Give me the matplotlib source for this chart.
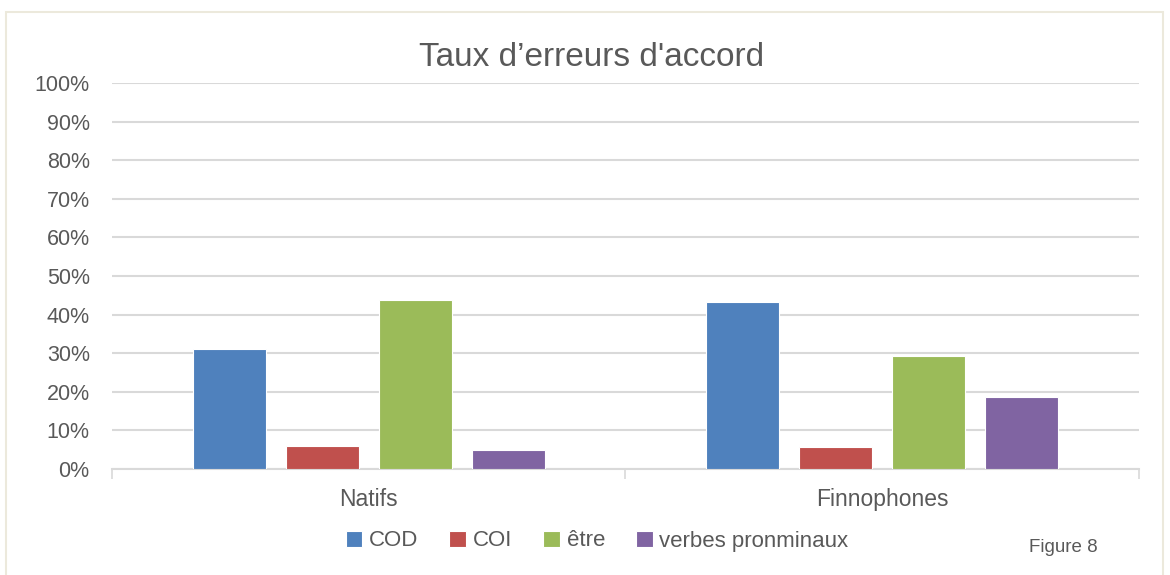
import matplotlib
matplotlib.use('Agg')
import matplotlib.pyplot as plt
import matplotlib.patches as mpatches
import numpy as np

# data
groups = ['Natifs', 'Finnophones']
series = ['COD', 'COI', 'être', 'verbes pronminaux']
cod = [31.1, 43.3]
coi = [6.0, 5.7]
etre = [43.8, 29.3]
verbes = [4.8, 18.7]
yticks = list(range(0, 101, 10))

colors = ['#4f81bd', '#c0504d', '#9bbb59', '#8064a2']
TXT = '#595959'

plt.rcParams['font.family'] = ['Liberation Sans Narrow', 'Liberation Sans', 'DejaVu Sans']

fig = plt.figure(figsize=(11.7, 5.75), dpi=100)
fig.patches.append(mpatches.Rectangle((6 / 1170, -0.01), 1157 / 1170, 1 - 12 / 575 + 0.01,
                                      transform=fig.transFigure, fill=False,
                                      edgecolor='#ece9dc', linewidth=1.5))

ax = fig.add_axes([0.0957, 0.1843, 0.8778, 0.6713])

x = np.arange(len(groups))
step, width = 0.181, 0.142
for i, (name, vals) in enumerate(zip(series, [cod, coi, etre, verbes])):
    ax.bar(x + (i - 1.5) * step, vals, width=width, color=colors[i],
           edgecolor='white', linewidth=0.8, label=name, zorder=3)

ax.set_xlim(-0.5, 1.5)
ax.set_ylim(0, 100)
ax.set_yticks(yticks)
ax.set_yticklabels([f'{v}%' for v in yticks], fontsize=15.5, color=TXT)
ax.yaxis.grid(True, color='#d9d9d9', linewidth=1.5, zorder=0)
ax.tick_params(axis='y', length=0, pad=16)

ax.set_xticks([-0.5, 0.5, 1.5])
ax.set_xticklabels([])
ax.tick_params(axis='x', length=7, width=1.2, color='#d9d9d9', direction='out')
ax.set_xticks(x, minor=True)
ax.set_xticklabels(groups, minor=True, fontsize=16.5, color=TXT)
ax.tick_params(axis='x', which='minor', length=0, pad=14)

for s in ['top', 'right', 'left']:
    ax.spines[s].set_visible(False)
ax.spines['bottom'].set_color('#d9d9d9')
ax.spines['bottom'].set_linewidth(1.5)

fig.text(592 / 1170, 1 - 57 / 575, "Taux d\u2019erreurs d'accord", ha='center', va='center',
         fontsize=24, color=TXT)

fig.legend(loc='center', bbox_to_anchor=(597 / 1170, 1 - 541 / 575), ncol=4,
           frameon=False, fontsize=16, handlelength=0.75, handleheight=0.75,
           handletextpad=0.3, columnspacing=1.4, labelcolor=TXT)

fig.text(1063 / 1170, 1 - 548 / 575, 'Figure 8', ha='center', va='center',
         fontsize=13.5, color=TXT)

fig.savefig('out.png', dpi=100, facecolor='white')
